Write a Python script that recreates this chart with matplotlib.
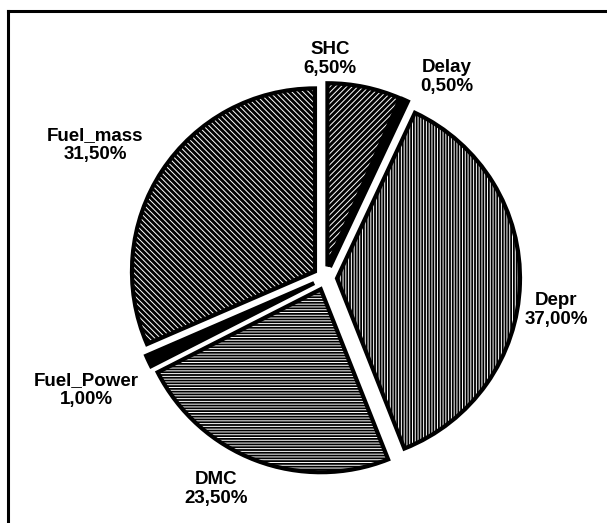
import matplotlib
matplotlib.use("Agg")
import matplotlib.pyplot as plt
from matplotlib.patches import Wedge
from matplotlib.lines import Line2D

# ---- data ----
categories = ["SHC", "Delay", "Depr", "DMC", "Fuel_Power", "Fuel_mass"]
values = [6.5, 0.5, 37.0, 23.5, 1.0, 31.5]
pct_labels = ["6,50%", "0,50%", "37,00%", "23,50%", "1,00%", "31,50%"]

# ---- style / layout ----
hatches = ["//////", "", "||||||", "------", "", "\\\\\\\\\\\\"]
label_pos = [(330, 464), (447, 446), (556, 213), (216, 34), (86, 133), (95, 378)]

W, H = 607, 523
plt.rcParams["hatch.linewidth"] = 0.7
fig = plt.figure(figsize=(W / 100, H / 100), dpi=100)
ax = fig.add_axes([0, 0, 1, 1])

wedges, _ = ax.pie(values, startangle=90, counterclock=False,
                   explode=[12] * len(values), colors=["black"] * len(values),
                   hatch=hatches, center=(325, 245), radius=183,
                   wedgeprops=dict(edgecolor="white", linewidth=0))
for w in wedges:
    ax.add_patch(Wedge(w.center, w.r, w.theta1, w.theta2, fill=False,
                       edgecolor="black", linewidth=3))

for (x, y), name, pct in zip(label_pos, categories, pct_labels):
    ax.text(x, y, f"{name}\n{pct}", ha="center", va="center",
            fontsize=13.5, fontweight="bold", family="Liberation Sans",
            linespacing=1.1, color="black")

ax.set_xlim(0, W)
ax.set_ylim(0, H)
ax.set_aspect("equal")
ax.axis("off")

# frame (left and top borders visible)
fig.add_artist(Line2D([8 / W, 8 / W], [0, 512 / H], transform=fig.transFigure,
                      color="black", linewidth=2.2))
fig.add_artist(Line2D([8 / W, 1], [512 / H, 512 / H], transform=fig.transFigure,
                      color="black", linewidth=2.2))

fig.savefig("out.png", dpi=100, facecolor="white")
